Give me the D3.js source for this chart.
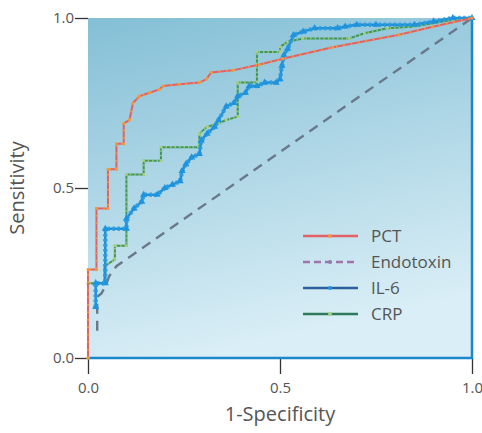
<!DOCTYPE html>
<html>
<head>
<meta charset="utf-8">
<script src="https://d3js.org/d3.v7.min.js"></script>
<style>
  body { margin: 0; background: #fff; }
  text { font-family: "Open Sans", "Noto Sans", sans-serif; fill: #555; }
</style>
</head>
<body>
<div id="chart"></div>
<script>
// ROC points: [1-specificity, sensitivity]
var pct = [[0,0],[0,0.26],[0.022,0.26],[0.022,0.44],[0.052,0.44],[0.052,0.555],[0.074,0.555],
  [0.074,0.63],[0.093,0.63],[0.093,0.69],[0.108,0.70],[0.117,0.75],[0.134,0.77],[0.16,0.78],
  [0.186,0.79],[0.195,0.80],[0.238,0.805],[0.29,0.81],[0.308,0.82],[0.321,0.84],[0.377,0.846],
  [0.447,0.863],[0.507,0.88],[0.637,0.914],[0.81,0.951],[0.898,0.974],[1,1]];
var endotoxin = [[0.024,0.08],[0.024,0.18],[0.035,0.19],[0.045,0.21],[0.055,0.24],[0.074,0.27],[1,1]];
var il6 = [[0.02,0.15],[0.02,0.22],[0.045,0.22],[0.045,0.38],[0.1,0.38],[0.1,0.41],[0.12,0.44],
  [0.14,0.46],[0.145,0.48],[0.18,0.48],[0.2,0.5],[0.22,0.51],[0.24,0.52],[0.245,0.55],[0.255,0.57],
  [0.27,0.59],[0.29,0.6],[0.295,0.64],[0.31,0.66],[0.33,0.68],[0.34,0.7],[0.36,0.74],[0.38,0.75],
  [0.39,0.77],[0.41,0.78],[0.42,0.8],[0.44,0.8],[0.46,0.81],[0.49,0.81],[0.5,0.82],[0.505,0.86],
  [0.51,0.89],[0.52,0.91],[0.535,0.95],[0.56,0.96],[0.59,0.97],[0.65,0.97],[0.67,0.975],[0.7,0.98],
  [0.75,0.98],[0.85,0.98],[0.9,0.99],[0.95,1],[1,1]];
var crp = [[0,0],[0,0.22],[0.043,0.22],[0.043,0.27],[0.07,0.29],[0.07,0.33],[0.1,0.33],[0.1,0.54],
  [0.145,0.54],[0.145,0.58],[0.19,0.58],[0.19,0.62],[0.29,0.62],[0.29,0.66],[0.31,0.68],[0.34,0.69],
  [0.36,0.7],[0.39,0.71],[0.39,0.81],[0.44,0.81],[0.44,0.9],[0.5,0.9],[0.5,0.915],[0.52,0.93],
  [0.56,0.94],[0.68,0.94],[0.72,0.955],[0.78,0.97],[0.85,0.975],[0.95,0.995],[1,1]];

var seriesNames = ["PCT", "Endotoxin", "IL-6", "CRP"];
var tickValues = [0, 0.5, 1];

var width = 482, height = 433;
var margin = {left: 88, right: 10, top: 18, bottom: 75};

var svg = d3.select("#chart").append("svg")
  .attr("width", width).attr("height", height);

var x = d3.scaleLinear().domain([0, 1]).range([margin.left, width - margin.right]);
var y = d3.scaleLinear().domain([0, 1]).range([height - margin.bottom, margin.top]);

// background gradient
var grad = svg.append("defs").append("linearGradient")
  .attr("id", "bg").attr("x1", 0).attr("y1", 0).attr("x2", 0.25).attr("y2", 1);
grad.append("stop").attr("offset", "0%").attr("stop-color", "#84bfd6");
grad.append("stop").attr("offset", "100%").attr("stop-color", "#d9eef6");

svg.append("rect")
  .attr("x", x(0)).attr("y", y(1))
  .attr("width", x(1) - x(0)).attr("height", y(0) - y(1))
  .attr("fill", "url(#bg)");

// axes
var yAxis = d3.axisLeft(y).tickValues(tickValues).tickSize(13).tickFormat(d3.format(".1f"));
var gy = svg.append("g").attr("transform", "translate(" + x(0) + ",0)").call(yAxis);
gy.select(".domain").remove();
gy.selectAll("line").attr("stroke", "#333").attr("stroke-width", 1.3);
gy.selectAll("text").attr("font-size", 15).attr("dx", 2).attr("fill", "#555");

var xAxis = d3.axisBottom(x).tickValues(tickValues).tickSize(16).tickFormat(d3.format(".1f"));
var gx = svg.append("g").attr("transform", "translate(0," + y(0) + ")").call(xAxis);
gx.select(".domain").remove();
gx.selectAll("line").attr("stroke", "#333").attr("stroke-width", 1.3);
gx.selectAll("text").attr("font-size", 15).attr("dy", 16).attr("fill", "#555");

// frame (bottom + right in blue)
svg.append("path")
  .attr("d", "M" + x(0) + "," + y(0) + "H" + x(1) + "V" + y(1))
  .attr("fill", "none").attr("stroke", "#1a88cc").attr("stroke-width", 2.5);

var line = d3.line().x(function(d){return x(d[0])}).y(function(d){return y(d[1])});

// base line + dotted overlay imitating the dense markers of the original
var styles = {
  "PCT":       {data: pct, stroke: "#e06266", width: 2, dash: null, dots: "#f3a044", dotDash: "1.5,6", dotW: 2.5,
                marker: "#f09a40", sym: d3.symbolCircle, msize: 8, legStroke: "#e06266"},
  "Endotoxin": {data: endotoxin, stroke: "#6a788c", width: 2.4, dash: "10,7", dots: null,
                marker: "#8e7fa6", legStroke: "#a074a8"},
  "IL-6":      {data: il6, stroke: "#1f8fd6", width: 2.5, dash: null, dots: "#2a9ce2", dotDash: "2.5,2.5", dotW: 4.5,
                marker: "#1f93dc", sym: d3.symbolTriangle, msize: 22, legStroke: "#2c5f9e"},
  "CRP":       {data: crp, stroke: "#3f9460", width: 2, dash: null, dots: "#9ccf78", dotDash: "1.5,3", dotW: 2.3,
                marker: "#a8d080", sym: d3.symbolSquare, msize: 7, legStroke: "#2e7b5c"}
};

["Endotoxin", "CRP", "IL-6", "PCT"].forEach(function(name) {
  var s = styles[name];
  svg.append("path").datum(s.data)
    .attr("d", line).attr("fill", "none")
    .attr("stroke", s.stroke).attr("stroke-width", s.width)
    .attr("stroke-dasharray", s.dash);
  if (s.dots) {
    svg.append("path").datum(s.data)
      .attr("d", line).attr("fill", "none")
      .attr("stroke", s.dots).attr("stroke-width", s.dotW)
      .attr("stroke-dasharray", s.dotDash).attr("opacity", 0.85);
    svg.selectAll(".m-" + name).data(s.data).enter().append("path")
      .attr("transform", function(d){ return "translate(" + x(d[0]) + "," + y(d[1]) + ")"; })
      .attr("d", d3.symbol().type(s.sym).size(s.msize))
      .attr("fill", s.marker);
  }
});

// legend
var leg = svg.append("g");
seriesNames.forEach(function(name, i) {
  var s = styles[name];
  var ly = 236 + i * 26;
  leg.append("line").attr("x1", 303).attr("x2", 358).attr("y1", ly).attr("y2", ly)
    .attr("stroke", s.legStroke).attr("stroke-width", 2.5)
    .attr("stroke-dasharray", s.dash ? "7,4" : null);
  leg.append("path").attr("transform", "translate(330," + ly + ")")
    .attr("d", d3.symbol().type(d3.symbolCircle).size(12)).attr("fill", s.marker);
  leg.append("text").attr("x", 371).attr("y", ly).attr("dy", "0.35em")
    .attr("font-size", 17).text(name);
});

// axis titles
svg.append("text").attr("x", x(0.5)).attr("y", 421).attr("text-anchor", "middle")
  .attr("font-size", 20).text("1-Specificity");
svg.append("text").attr("transform", "translate(24," + y(0.5) + ") rotate(-90)")
  .attr("text-anchor", "middle").attr("font-size", 20).text("Sensitivity");
</script>
</body>
</html>
